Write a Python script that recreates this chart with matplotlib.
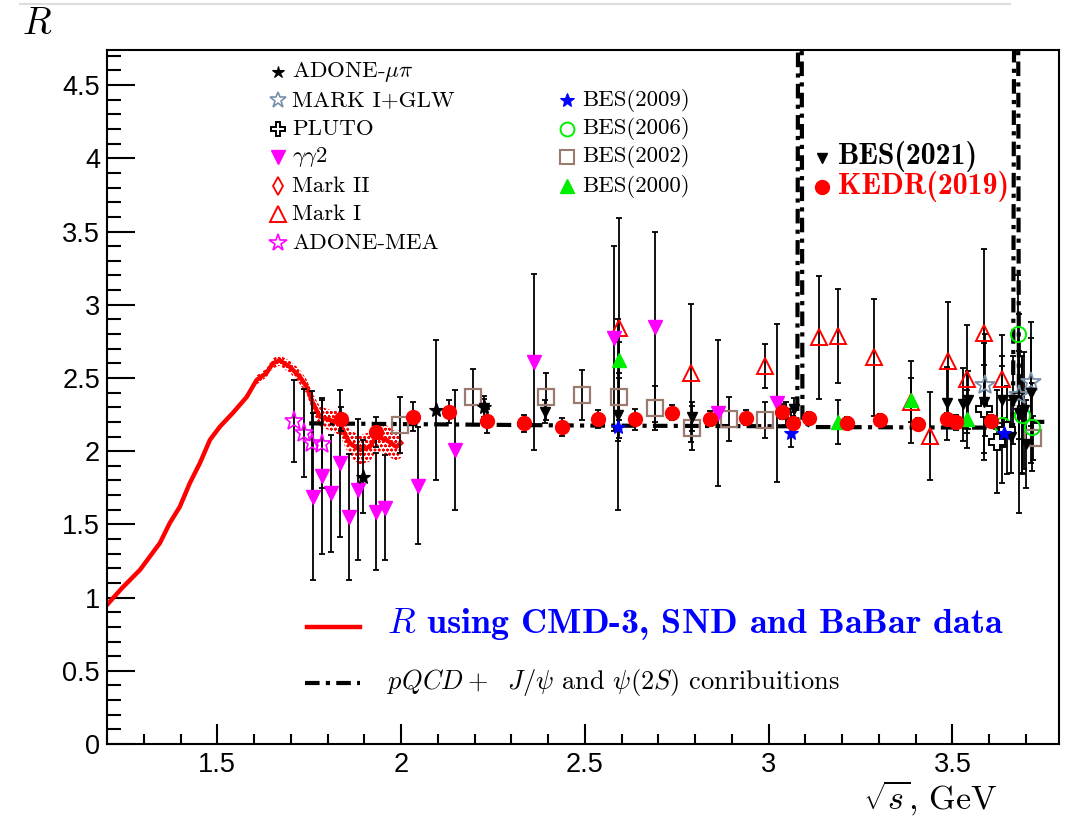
import matplotlib
matplotlib.use('Agg')
import matplotlib.pyplot as plt
from matplotlib.ticker import MultipleLocator
from matplotlib.lines import Line2D

plt.rcParams['mathtext.fontset'] = 'cm'
plt.rcParams['font.family'] = ['Liberation Sans', 'DejaVu Sans']
plt.rcParams['axes.unicode_minus'] = False
plt.rcParams['hatch.linewidth'] = 0.8

# ---------------- data ----------------
# R from CMD-3, SND, BaBar (curve) and its uncertainty band
curve_x = [1.20, 1.24, 1.29, 1.344, 1.371, 1.398, 1.425, 1.453, 1.48, 1.507, 1.542, 1.58,
           1.607, 1.634, 1.651, 1.67, 1.697, 1.724, 1.743, 1.76, 1.779, 1.806, 1.833,
           1.86, 1.888, 1.915, 1.933, 1.96, 1.987, 2.0]
curve_y = [0.95, 1.063, 1.19, 1.373, 1.51, 1.62, 1.78, 1.92, 2.077, 2.167, 2.26, 2.37,
           2.486, 2.534, 2.60, 2.62, 2.577, 2.51, 2.44, 2.33, 2.236, 2.213, 2.19,
           2.056, 2.008, 2.03, 2.10, 2.077, 2.03, 2.056]
curve_err = [0, 0, 0, 0, 0, 0, 0, 0, 0, 0, 0, 0.0,
             0.03, 0.03, 0.035, 0.035, 0.04, 0.05, 0.05, 0.06, 0.07, 0.07, 0.08,
             0.09, 0.1, 0.1, 0.1, 0.1, 0.1, 0.1]

# pQCD + J/psi + psi(2S)
pqcd_x = [1.75, 2.5, 3.05, 3.078, 3.083, 3.087, 3.092, 3.12, 3.665, 3.672, 3.676, 3.681, 3.70, 3.75]
pqcd_y = [2.19, 2.175, 2.17, 2.2, 9.0, 9.0, 2.2, 2.165, 2.16, 9.0, 9.0, 2.2, 2.2, 2.2]

adone_mupi_x = [1.897, 2.096, 2.227]
adone_mupi_y = [1.826, 2.281, 2.30]
adone_mupi_e = [0.25, 0.48, 0.08]

markI_glw_x = [3.588, 3.68, 3.715]
markI_glw_y = [2.452, 2.384, 2.475]
markI_glw_e = [0.35, 0.3, 0.3]

pluto_x = [3.586, 3.622, 3.649]
pluto_y = [2.286, 2.065, 2.145]
pluto_e = [0.3, 0.35, 0.3]

gg2_x = [1.761, 1.785, 1.809, 1.833, 1.858, 1.883, 1.931, 1.955, 2.046, 2.146,
         2.363, 2.58, 2.692, 2.861, 3.024]
gg2_y = [1.689, 1.83, 1.712, 1.917, 1.553, 1.738, 1.587, 1.614, 1.765, 2.008,
         2.607, 2.77, 2.85, 2.259, 2.327]
gg2_e = [0.57, 0.535, 0.4, 0.5, 0.43, 0.48, 0.4, 0.36, 0.4, 0.41,
         0.6, 0.63, 0.65, 0.5, 0.54]

markI_x = [2.594, 2.79, 2.99, 3.138, 3.189, 3.287, 3.388, 3.438, 3.488, 3.539, 3.586, 3.636]
markI_y = [2.84, 2.532, 2.58, 2.778, 2.787, 2.641, 2.338, 2.106, 2.618, 2.491, 2.81, 2.491]
markI_e = [0.75, 0.47, 0.15, 0.42, 0.32, 0.4, 0.28, 0.3, 0.4, 0.37, 0.57, 0.3]

adone_mea_x = [1.709, 1.736, 1.759, 1.786]
adone_mea_y = [2.208, 2.127, 2.058, 2.049]
adone_mea_e = [0.28, 0.3, 0.35, 0.3]

bes2009_x = [2.59, 3.06, 3.64]
bes2009_y = [2.167, 2.127, 2.127]
bes2009_e = [0.1, 0.1, 0.1]

bes2006_x = [3.636, 3.679, 3.69, 3.716]
bes2006_y = [2.18, 2.80, 2.247, 2.167]
bes2006_e = [0.4, 0.4, 0.4, 0.3]

bes2002_x = [1.996, 2.195, 2.393, 2.493, 2.592, 2.692, 2.791, 2.891, 2.99, 3.72]
bes2002_y = [2.179, 2.373, 2.373, 2.384, 2.373, 2.293, 2.16, 2.218, 2.213, 2.088]
bes2002_e = [0.19, 0.19, 0.16, 0.17, 0.16, 0.15, 0.15, 0.15, 0.12, 0.15]

bes2000_x = [2.592, 3.189, 3.388, 3.539]
bes2000_y = [2.623, 2.197, 2.35, 2.22]
bes2000_e = [0.12, 0.15, 0.15, 0.2]

bes2021_x = [2.227, 2.392, 2.59, 2.791, 3.047, 3.06, 3.07, 3.486, 3.529, 3.543, 3.587,
             3.636, 3.66, 3.665, 3.68, 3.69, 3.695, 3.70, 3.715]
bes2021_y = [2.293, 2.27, 2.25, 2.236, 2.258, 2.19, 2.286, 2.327, 2.32, 2.35, 2.338,
             2.35, 2.1, 2.35, 2.26, 2.25, 2.28, 2.05, 2.4]
bes2021_e = [0.06, 0.08, 0.65, 0.1, 0.08, 0.08, 0.08, 0.25, 0.25, 0.2, 0.4,
             0.3, 0.25, 0.3, 0.68, 0.4, 0.4, 0.3, 0.48]

kedr_x = [1.836, 1.933, 2.032, 2.13, 2.235, 2.334, 2.437, 2.536, 2.637, 2.737, 2.84,
          2.938, 3.037, 3.065, 3.11, 3.212, 3.303, 3.407, 3.486, 3.509, 3.604]
kedr_y = [2.22, 2.13, 2.236, 2.27, 2.206, 2.19, 2.167, 2.218, 2.218, 2.263, 2.222,
          2.229, 2.27, 2.19, 2.229, 2.195, 2.213, 2.184, 2.22, 2.197, 2.208]
kedr_e = [0.08, 0.1, 0.1, 0.08, 0.08, 0.06, 0.06, 0.06, 0.07, 0.05, 0.05,
          0.05, 0.05, 0.05, 0.04, 0.04, 0.04, 0.04, 0.04, 0.05, 0.04]

x_ticks = [1.5, 2.0, 2.5, 3.0, 3.5]
x_ticklabels = ['1.5', '2', '2.5', '3', '3.5']
y_ticks = [0, 0.5, 1, 1.5, 2, 2.5, 3, 3.5, 4, 4.5]
y_ticklabels = ['0', '0.5', '1', '1.5', '2', '2.5', '3', '3.5', '4', '4.5']

# ---------------- figure ----------------
W, H = 1071, 816
fig = plt.figure(figsize=(W / 100, H / 100), dpi=100)
L, R_, T, B = 107, 1059, 50, 744
ax = fig.add_axes([L / W, 1 - B / H, (R_ - L) / W, (B - T) / H])
ax.set_xlim(1.2, 3.79)
ax.set_ylim(0, 4.74)

for s in ax.spines.values():
    s.set_linewidth(1.5)

ax.set_xticks(x_ticks)
ax.set_xticklabels(x_ticklabels)
ax.set_yticks(y_ticks)
ax.set_yticklabels(y_ticklabels)
ax.xaxis.set_minor_locator(MultipleLocator(0.1))
ax.yaxis.set_minor_locator(MultipleLocator(0.1))
ax.tick_params(axis='both', which='both', direction='in', top=False, right=False, width=1.5)
ax.tick_params(axis='y', which='major', length=20, pad=5, labelsize=19.5)
ax.tick_params(axis='y', which='minor', length=10)
ax.tick_params(axis='x', which='major', length=14.5, pad=6, labelsize=19.5)
ax.tick_params(axis='x', which='minor', length=7.2)

RED = '#ff0000'
MAG = '#ff00ff'
GRN = '#00ee00'
BRN = '#9a7b6f'
SLATE = '#7890a8'

# band + curve
bx = [x for x, e in zip(curve_x, curve_err) if e > 0]
blo = [y - e for y, e in zip(curve_y, curve_err) if e > 0]
bhi = [y + e for y, e in zip(curve_y, curve_err) if e > 0]
ax.fill_between(bx, blo, bhi, facecolor='none', edgecolor=RED, hatch='oooo', linewidth=0, zorder=2)
ax.plot(curve_x, curve_y, color=RED, lw=3.2, zorder=2.5, solid_joinstyle='round')

# pQCD
ax.plot(pqcd_x, pqcd_y, color='black', lw=3.0, dashes=(3.5, 1.5, 1, 1.5), zorder=2.2)


def series(x, y, e, marker, ms, mfc, mec, mew=1.3, z=4):
    ax.errorbar(x, y, yerr=e, fmt='none', ecolor='black', elinewidth=1.3,
                capsize=2.5, capthick=1.3, zorder=3)
    ax.plot(x, y, ls='none', marker=marker, ms=ms, mfc=mfc, mec=mec, mew=mew, zorder=z)


series(bes2002_x, bes2002_y, bes2002_e, 's', 11, 'none', BRN, 1.6)
series(markI_x, markI_y, markI_e, '^', 12, 'none', RED, 1.4)
series(bes2006_x, bes2006_y, bes2006_e, 'o', 11, 'none', GRN, 1.4)
series(adone_mea_x, adone_mea_y, adone_mea_e, '*', 14, 'none', MAG, 1.2)
series(markI_glw_x, markI_glw_y, markI_glw_e, '*', 15, 'none', SLATE, 1.3)
series(pluto_x, pluto_y, pluto_e, 'P', 11, 'white', 'black', 1.4)
series(gg2_x, gg2_y, gg2_e, 'v', 10, MAG, MAG, 1.0)
series(bes2000_x, bes2000_y, bes2000_e, '^', 10, GRN, GRN, 1.0)
series(bes2021_x, bes2021_y, bes2021_e, 'v', 7, 'black', 'black', 1.0)
series(adone_mupi_x, adone_mupi_y, adone_mupi_e, '*', 11, 'black', 'black', 0.8)
series(bes2009_x, bes2009_y, bes2009_e, '*', 10, 'blue', 'blue', 0.8)
series(kedr_x, kedr_y, kedr_e, 'o', 10, RED, RED, 1.0, z=5)


# ---------------- legends (figure pixel coords) ----------------
def fx(px):
    return px / W


def fy(py):
    return 1 - py / H


def lmark(px, py, marker, ms, mfc, mec, mew=1.3):
    fig.add_artist(Line2D([fx(px)], [fy(py)], ls='none', marker=marker, ms=ms,
                          mfc=mfc, mec=mec, mew=mew))


SER = ['cmr10']
fs = 16.5
left_items = [
    ('ADONE-$\\mu\\pi$', '*', 9, 'black', 'black', 0.8),
    ('MARK I+GLW', '*', 12, 'none', SLATE, 1.2),
    ('PLUTO', 'P', 10, 'white', 'black', 1.4),
    ('$\\gamma\\gamma$2', 'v', 10, MAG, MAG, 1.0),
    ('Mark II', 'd', 9, 'none', RED, 1.3),
    ('Mark I', '^', 11, 'none', RED, 1.4),
    ('ADONE-MEA', '*', 13, 'none', MAG, 1.2),
]
rows_left = [72, 100, 129, 157, 186, 214, 243]
for (lab, m, ms, fc, ec, mw), py in zip(left_items, rows_left):
    lmark(278, py, m, ms, fc, ec, mw)
    fig.text(fx(292), fy(py), lab, family=SER, fontsize=fs, va='center', ha='left')

mid_items = [
    ('BES(2009)', '*', 10, 'blue', 'blue', 0.8),
    ('BES(2006)', 'o', 10, 'none', GRN, 1.4),
    ('BES(2002)', 's', 10, 'none', BRN, 1.5),
    ('BES(2000)', '^', 10, GRN, GRN, 1.0),
]
rows_mid = [100, 129, 157, 186]
for (lab, m, ms, fc, ec, mw), py in zip(mid_items, rows_mid):
    lmark(567, py, m, ms, fc, ec, mw)
    fig.text(fx(582), fy(py), lab, family=SER, fontsize=fs, va='center', ha='left')

lmark(822, 158, 'v', 7, 'black', 'black', 1.0)
fig.text(fx(838), fy(157), 'BES(2021)', family=['cmb10'], fontsize=21.5, va='center', ha='left',
         color='black')
lmark(822, 187, 'o', 10, RED, RED, 1.0)
fig.text(fx(838), fy(186), 'KEDR(2019)', family=['cmb10'], fontsize=21.5, va='center', ha='left',
         color=RED)

fig.add_artist(Line2D([fx(307), fx(360)], [fy(627), fy(627)], color=RED, lw=3.2))
fig.text(fx(387), fy(624), '$R$ using CMD-3, SND and BaBar data', family=['cmb10'],
         fontsize=26, va='center', ha='left', color='#0000ff')
fig.add_artist(Line2D([fx(305), fx(360)], [fy(683), fy(683)], color='black', lw=3.0,
                      dashes=(3.5, 1.5, 1, 1.5)))
fig.text(fx(387), fy(683), '$pQCD+\\ \\ J/\\psi$ and $\\psi(2S)$ conribuitions', family=SER,
         fontsize=19, va='center', ha='left')

# axis titles
fig.text(fx(22), fy(24), '$R$', fontsize=27, va='center', ha='left')
fig.text(fx(998), fy(809), '$\\sqrt{s}$, GeV', family=SER, fontsize=24.5, va='baseline', ha='right')

# thin grey line at the very top
fig.add_artist(Line2D([fx(20), fx(1010)], [fy(4), fy(4)], color='#dddddd', lw=1.5))

fig.savefig('out.png', dpi=100)
